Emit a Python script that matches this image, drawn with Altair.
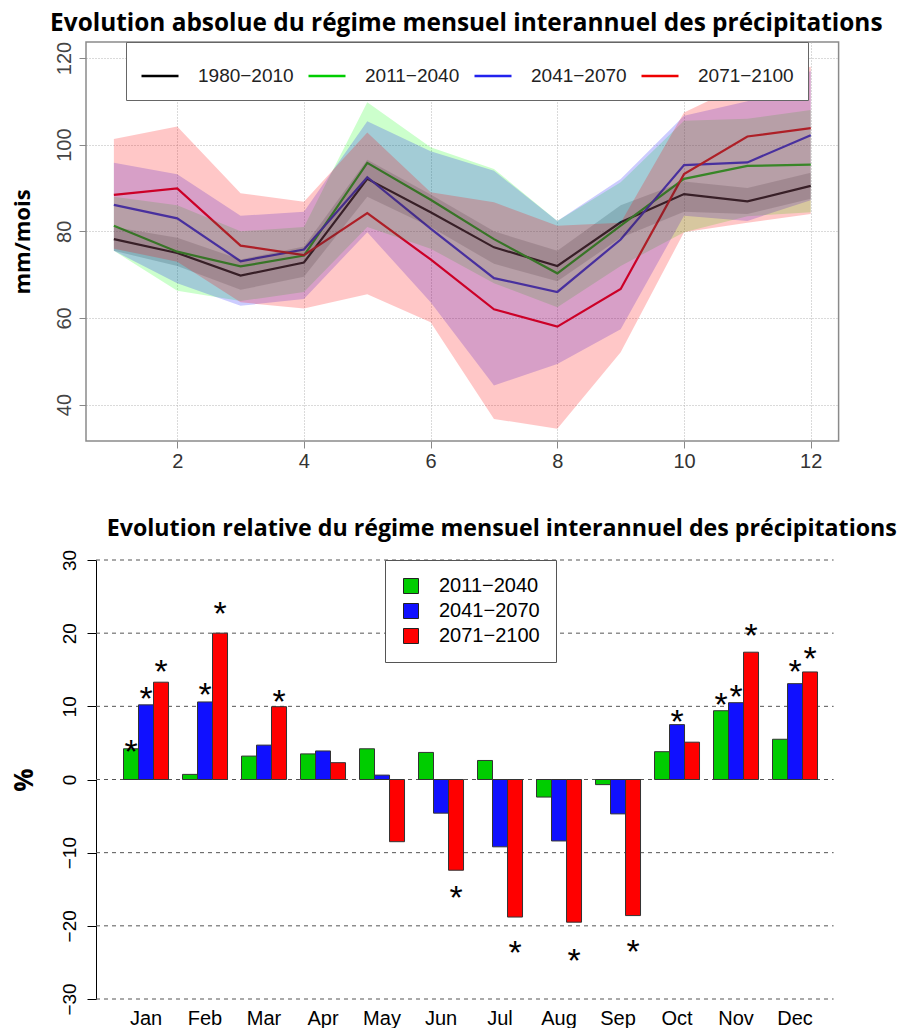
import altair as alt
import pandas as pd

# ---------------- data: top panel (mm/mois) ----------------
months = [1, 2, 3, 4, 5, 6, 7, 8, 9, 10, 11, 12]
periods = ["1980−2010", "2011−2040", "2041−2070", "2071−2100"]

mean_1980 = [78.2, 75.0, 69.8, 72.8, 92.1, 84.4, 76.3, 72.0, 82.1, 88.6, 86.9, 90.5]
mean_2011 = [81.3, 75.3, 71.9, 74.4, 95.8, 87.3, 78.2, 70.3, 81.3, 92.1, 95.1, 95.4]
mean_2041 = [86.1, 83.0, 73.1, 75.8, 92.5, 80.6, 69.2, 66.0, 78.1, 95.3, 95.9, 102.2]
mean_2071 = [88.4, 89.9, 76.7, 74.5, 84.2, 73.5, 62.0, 58.0, 66.7, 93.2, 101.9, 103.8]

lo_1980 = [75.5, 72.0, 66.5, 69.5, 88.0, 81.0, 72.5, 68.5, 78.5, 84.5, 84.0, 87.5]
hi_1980 = [81.0, 78.5, 73.5, 76.5, 96.5, 88.5, 80.0, 75.5, 86.0, 91.5, 90.0, 93.5]
lo_2011 = [75.5, 66.3, 63.9, 66.0, 81.0, 76.0, 68.0, 62.5, 72.0, 79.8, 83.5, 84.4]
hi_2011 = [88.0, 86.0, 80.0, 81.0, 109.8, 99.4, 94.4, 82.4, 91.3, 105.5, 106.0, 108.0]
lo_2041 = [75.5, 68.0, 62.8, 64.4, 79.8, 63.6, 44.4, 49.4, 57.4, 83.6, 82.4, 87.2]
hi_2041 = [95.8, 93.2, 83.6, 84.5, 105.4, 98.5, 94.0, 82.4, 92.1, 106.7, 110.0, 117.0]
lo_2071 = [76.0, 73.0, 63.6, 62.2, 65.5, 59.0, 36.7, 34.4, 52.1, 79.8, 82.0, 84.0]
hi_2071 = [101.3, 104.2, 88.8, 86.8, 102.8, 89.0, 86.7, 81.3, 82.0, 107.4, 114.4, 118.0]

top_x_ticks = [2, 4, 6, 8, 10, 12]
top_y_ticks = [40, 60, 80, 100, 120]

# ---------------- data: bottom panel (%) ----------------
month_names = ["Jan", "Feb", "Mar", "Apr", "May", "Jun", "Jul", "Aug", "Sep", "Oct", "Nov", "Dec"]
scenarios = ["2011−2040", "2041−2070", "2071−2100"]
rel_2011 = [4.2, 0.7, 3.2, 3.5, 4.2, 3.7, 2.6, -2.4, -0.7, 3.8, 9.4, 5.5]
rel_2041 = [10.2, 10.6, 4.7, 3.9, 0.6, -4.6, -9.2, -8.4, -4.7, 7.5, 10.5, 13.1]
rel_2071 = [13.3, 20.0, 9.95, 2.3, -8.5, -12.4, -18.8, -19.5, -18.6, 5.1, 17.4, 14.7]

star_month = ["Jan", "Jan", "Jan", "Feb", "Feb", "Mar", "Jun", "Jul", "Aug", "Sep",
              "Oct", "Nov", "Nov", "Nov", "Dec", "Dec"]
star_scen = ["2011−2040", "2041−2070", "2071−2100", "2041−2070", "2071−2100", "2071−2100",
             "2071−2100", "2071−2100", "2071−2100", "2071−2100", "2041−2070", "2011−2040",
             "2041−2070", "2071−2100", "2041−2070", "2071−2100"]
star_y = [4.75, 11.9, 15.6, 12.5, 23.6, 11.6, -15.3, -22.8, -23.8, -22.6,
          8.8, 11.2, 12.3, 20.6, 15.6, 17.4]

bottom_y_ticks = [-30, -20, -10, 0, 10, 20, 30]

# ---------------- styles ----------------
line_colors = ["#000000", "#00cd00", "#2222ee", "#ee0000"]
band_fill = ["#000000", "#00ff00", "#0000ff", "#ff0000"]
band_opacity = [0.17, 0.2, 0.2, 0.22]
bar_colors = ["#00cd00", "#1010ff", "#ff0000"]

TITLE_FONT = "Open Sans"
LABEL_FONT = "Liberation Sans"

# ---------------- build top ----------------
means = [mean_1980, mean_2011, mean_2041, mean_2071]
los = [lo_1980, lo_2011, lo_2041, lo_2071]
his = [hi_1980, hi_2011, hi_2041, hi_2071]
rows = []
for p, m, lo, hi in zip(periods, means, los, his):
    for i, mo in enumerate(months):
        rows.append({"month": mo, "period": p, "mean": m[i], "lo": lo[i], "hi": hi[i]})
df_top = pd.DataFrame(rows)

W_TOP, H_TOP = 752.6, 399
xs_top = alt.Scale(domain=[0.56, 12.44], nice=False, zero=False)
ys_top = alt.Scale(domain=[31.6, 123.7], nice=False, zero=False)

x_axis_top = alt.Axis(values=top_x_ticks, title=None, grid=True, gridDash=[1, 2],
                      gridColor="#b5b5b5", domain=False, tickSize=7, tickColor="#888",
                      labelFontSize=20, labelFont=LABEL_FONT, labelColor="#333",
                      labelPadding=3)
y_axis_top = alt.Axis(values=top_y_ticks, title="mm/mois", grid=True, gridDash=[1, 2],
                      gridColor="#b5b5b5", domain=False, tickSize=7, tickColor="#888",
                      labelFontSize=20, labelFont=LABEL_FONT, labelColor="#444",
                      labelAngle=270, labelAlign="center", labelBaseline="bottom",
                      labelPadding=5, titleFont=TITLE_FONT, titleFontSize=22,
                      titleFontWeight="bold", titleColor="black", titlePadding=20)

base_top = alt.Chart(df_top)
lines = base_top.mark_line(strokeWidth=2.2).encode(
    x=alt.X("month:Q", scale=xs_top, axis=x_axis_top),
    y=alt.Y("mean:Q", scale=ys_top, axis=y_axis_top),
    color=alt.Color("period:N", sort=periods,
                    scale=alt.Scale(domain=periods, range=line_colors),
                    legend=alt.Legend(orient="none", legendX=40, legendY=0,
                                      direction="horizontal", columns=4, title=None,
                                      symbolType="stroke", symbolSize=1369,
                                      symbolStrokeWidth=2.5, labelFontSize=19,
                                      labelFont=LABEL_FONT, labelColor="#222",
                                      labelOffset=18, columnPadding=9, padding=14,
                                      fillColor="white", strokeColor="#666",
                                      labelLimit=0)),
)
bands = []
for p, c, o in zip(periods, band_fill, band_opacity):
    bands.append(
        base_top.transform_filter(alt.datum.period == p)
        .mark_area(color=c, opacity=o)
        .encode(x=alt.X("month:Q", scale=xs_top, axis=x_axis_top),
                y=alt.Y("lo:Q", scale=ys_top, axis=y_axis_top),
                y2="hi:Q")
    )

top = alt.layer(lines, *bands).properties(
    width=W_TOP, height=H_TOP,
    title=alt.TitleParams("Evolution absolue du régime mensuel interannuel des précipitations",
                          font=TITLE_FONT, fontSize=24.4, fontWeight="bold", color="black",
                          anchor="middle", offset=0, dx=4, dy=-5),
    view=alt.ViewBackground(stroke="#8a8a8a", strokeWidth=1.5),
)

# ---------------- build bottom ----------------
rels = [rel_2011, rel_2041, rel_2071]
brow = []
for s, vals in zip(scenarios, rels):
    for i, mn in enumerate(month_names):
        brow.append({"month": mn, "scen": s, "value": vals[i]})
df_bar = pd.DataFrame(brow)
df_star = pd.DataFrame({"month": star_month, "scen": star_scen, "value": star_y})
df_grid = pd.DataFrame({"value": bottom_y_ticks})

W_BOT, H_BOT = 747.6, 439
x_bot = alt.X("month:N", sort=month_names,
              scale=alt.Scale(domain=month_names, paddingInner=0.237, paddingOuter=0.454, align=0.70),
              axis=alt.Axis(title=None, domain=False, ticks=False, labelAngle=0,
                            labelFontSize=20, labelFont=LABEL_FONT, labelColor="black",
                            labelPadding=9))
xo_bot = alt.XOffset("scen:N", sort=scenarios,
                     scale=alt.Scale(domain=scenarios, paddingInner=0, paddingOuter=0))
ys_bot = alt.Scale(domain=[-30, 30], nice=False)
y_axis_bot = alt.Axis(values=bottom_y_ticks, title="%", grid=False, offset=-10,
                      domainColor="black", tickColor="black", tickSize=9,
                      labelFontSize=19, labelFont=LABEL_FONT, labelColor="black",
                      labelAngle=270, labelAlign="center", labelBaseline="bottom",
                      labelPadding=8, titleFont=TITLE_FONT, titleFontSize=26,
                      titleFontWeight="bold", titleColor="black", titlePadding=23)

grid = alt.Chart(df_grid).mark_rule(color="#555", strokeDash=[4, 4], strokeWidth=1).encode(
    y=alt.Y("value:Q", scale=ys_bot, axis=y_axis_bot),
    x=alt.value(10), x2=alt.value(W_BOT),
)
bars = alt.Chart(df_bar).mark_bar(stroke="#333", strokeWidth=1).encode(
    x=x_bot, xOffset=xo_bot,
    y=alt.Y("value:Q", scale=ys_bot, axis=y_axis_bot),
    color=alt.Color("scen:N", sort=scenarios,
                    scale=alt.Scale(domain=scenarios, range=bar_colors),
                    legend=alt.Legend(orient="none", legendX=299, legendY=0,
                                      direction="vertical", title=None,
                                      symbolType="square", symbolSize=225,
                                      symbolStrokeColor="#222", symbolStrokeWidth=1,
                                      labelFontSize=20, labelFont=LABEL_FONT,
                                      labelColor="black", labelOffset=18, rowPadding=5,
                                      padding=16, fillColor="white", strokeColor="#555",
                                      labelLimit=0)),
)
stars = alt.Chart(df_star).mark_text(text="*", fontSize=34, font=LABEL_FONT,
                                     baseline="alphabetic", dy=18, color="black").encode(
    x=x_bot, xOffset=xo_bot,
    y=alt.Y("value:Q", scale=ys_bot, axis=y_axis_bot),
)

bottom = alt.layer(grid, bars, stars).properties(
    width=W_BOT, height=H_BOT,
    title=alt.TitleParams("Evolution relative du régime mensuel interannuel des précipitations",
                          font=TITLE_FONT, fontSize=23.2, fontWeight="bold", color="black",
                          anchor="middle", dx=42, offset=8),
    view=alt.ViewBackground(strokeWidth=0),
)

chart = alt.vconcat(top, bottom, spacing=45).resolve_scale(color="independent").properties(
    padding={"left": 2, "top": 2, "right": 0, "bottom": 0},
).configure(background="white")

chart.save("out.html", embed_options={"renderer": "svg", "actions": False})
